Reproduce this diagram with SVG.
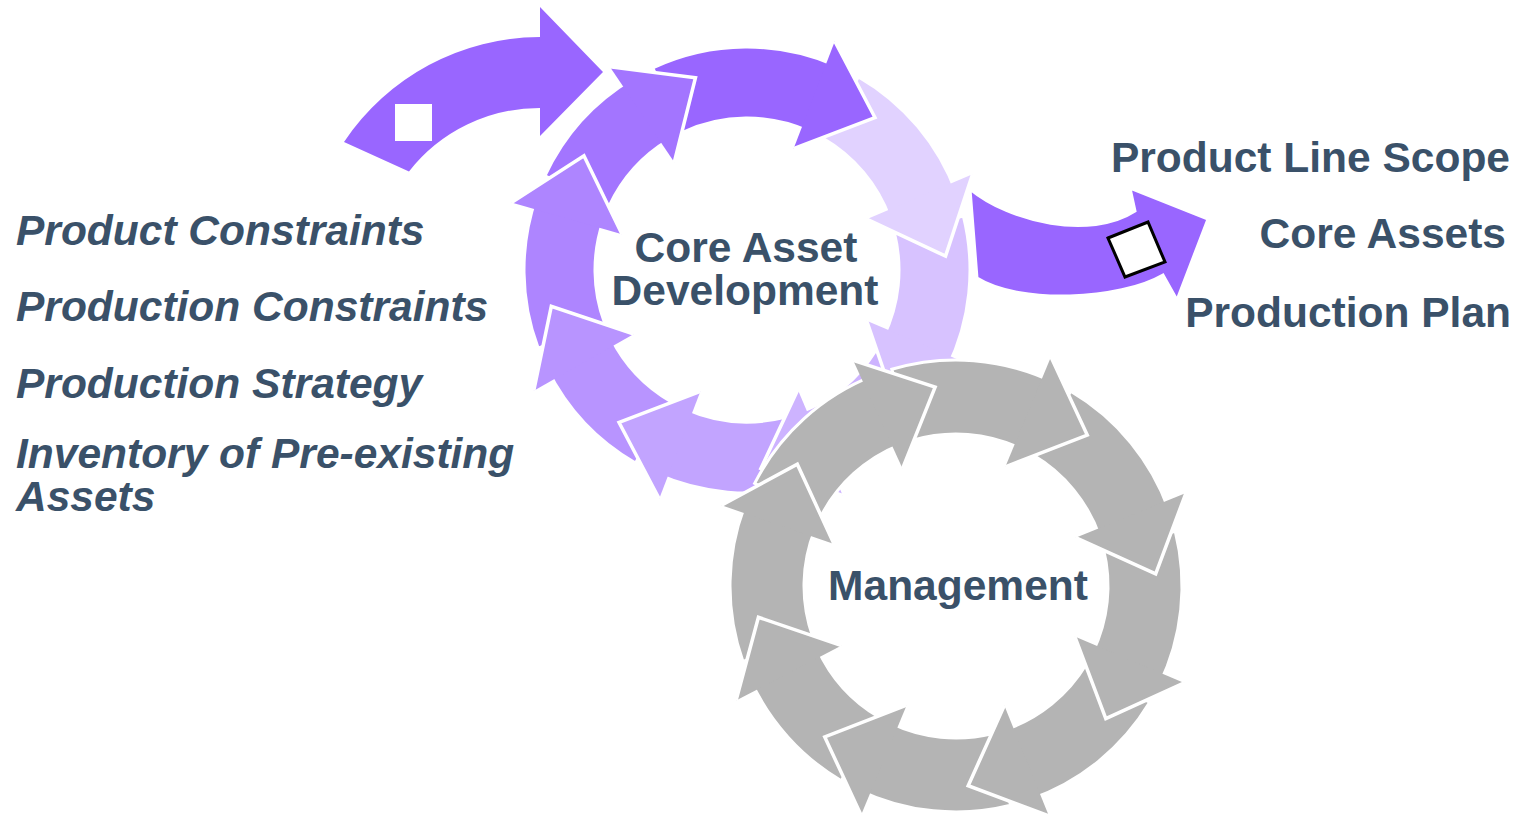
<svg xmlns="http://www.w3.org/2000/svg" xmlns:xlink="http://www.w3.org/1999/xlink" width="1524" height="817" viewBox="0 0 1524 817">
<style>
.t{font-family:"Liberation Sans",Arial,sans-serif;font-weight:bold;fill:#3A5169;font-size:42.5px}
.i{font-style:italic}
.b{stroke:#fff;stroke-width:3;stroke-linejoin:miter}
.w{fill:none;stroke:#fff;stroke-width:3.5;stroke-linejoin:miter}
.g{fill:#B4B4B4}
</style>
<defs>
<path id="ph" d="M0,-245 L64.8,-188.2 L0,-130 Z"/>
<path id="phs" d="M0,-245 L64.8,-188.2 L0,-130"/>
<path id="gh" d="M0,-248 L63.5,-189.7 L0,-129 Z"/>
<path id="ghs" d="M0,-248 L63.5,-189.7 L0,-129"/>
</defs>

<g id="input-arrow">
<path d="M344,142 A237,237 0 0 1 540,37 L540,7 L603,72 L540,136 L540,108 A166,166 0 0 0 409,171.5 Z" fill="#9966FF"/>
<rect x="395" y="104" width="37" height="37" fill="#fff"/>
</g>

<g id="core-asset-development">
<g id="cad-bodies">
<path class="b" fill="#9966FF" transform="translate(747,270) rotate(21)" d="M-160.41,-154.91 A223,223 0 0 1 11.67,-222.69 L7.96,-151.79 A152,152 0 0 0 -109.34,-105.59 Z"/>
<path class="b" fill="#E1D2FF" transform="translate(747,270) rotate(67)" d="M-134.21,-178.10 A223,223 0 0 1 11.67,-222.69 L7.96,-151.79 A152,152 0 0 0 -91.48,-121.39 Z"/>
<path class="b" fill="#D7C2FF" transform="translate(747,270) rotate(113)" d="M-134.21,-178.10 A223,223 0 0 1 11.67,-222.69 L7.96,-151.79 A152,152 0 0 0 -91.48,-121.39 Z"/>
<path class="b" fill="#CDB3FF" transform="translate(747,270) rotate(157)" d="M-127.91,-182.67 A223,223 0 0 1 11.67,-222.69 L7.96,-151.79 A152,152 0 0 0 -87.18,-124.51 Z"/>
<path class="b" fill="#C2A4FF" transform="translate(747,270) rotate(201)" d="M-127.91,-182.67 A223,223 0 0 1 11.67,-222.69 L7.96,-151.79 A152,152 0 0 0 -87.18,-124.51 Z"/>
<path class="b" fill="#B894FF" transform="translate(747,270) rotate(240.5)" d="M-113.18,-192.14 A223,223 0 0 1 11.67,-222.69 L7.96,-151.79 A152,152 0 0 0 -77.15,-130.97 Z"/>
<path class="b" fill="#AE85FF" transform="translate(747,270) rotate(286)" d="M-132.64,-179.26 A223,223 0 0 1 11.67,-222.69 L7.96,-151.79 A152,152 0 0 0 -90.41,-122.19 Z"/>
<path class="b" fill="#A375FF" transform="translate(747,270) rotate(326)" d="M-114.85,-191.15 A223,223 0 0 1 11.67,-222.69 L7.96,-151.79 A152,152 0 0 0 -78.29,-130.29 Z"/>
</g>
<g id="cad-heads">
<g transform="translate(747,270) rotate(21)"><use href="#ph" fill="#9966FF"/><use href="#phs" class="w"/></g>
<g transform="translate(747,270) rotate(67)"><use href="#ph" fill="#E1D2FF"/><use href="#phs" class="w"/></g>
<g transform="translate(747,270) rotate(113)"><use href="#ph" fill="#D7C2FF"/><use href="#phs" class="w"/></g>
<g transform="translate(747,270) rotate(157)"><use href="#ph" fill="#CDB3FF"/><use href="#phs" class="w"/></g>
<g transform="translate(747,270) rotate(201)"><use href="#ph" fill="#C2A4FF"/><use href="#phs" class="w"/></g>
<g transform="translate(747,270) rotate(240.5)"><use href="#ph" fill="#B894FF"/><use href="#phs" class="w"/></g>
<g transform="translate(747,270) rotate(286)"><use href="#ph" fill="#AE85FF"/><use href="#phs" class="w"/></g>
<g transform="translate(747,270) rotate(326)"><use href="#ph" fill="#A375FF"/><use href="#phs" class="w"/></g>
</g>
<text class="t" x="746" y="262" text-anchor="middle">Core Asset</text>
<text class="t" x="745" y="305" text-anchor="middle">Development</text>
</g>

<g id="management">
<g id="mgmt-bodies">
<path class="b g" transform="translate(956,586) rotate(22.5)" d="M-142.23,-175.64 A226,226 0 0 1 11.83,-225.69 L7.96,-151.79 A152,152 0 0 0 -95.66,-118.13 Z"/>
<path class="b g" transform="translate(956,586) rotate(68)" d="M-137.58,-179.30 A226,226 0 0 1 11.83,-225.69 L7.96,-151.79 A152,152 0 0 0 -92.53,-120.59 Z"/>
<path class="b g" transform="translate(956,586) rotate(113)" d="M-136.01,-180.49 A226,226 0 0 1 11.83,-225.69 L7.96,-151.79 A152,152 0 0 0 -91.48,-121.39 Z"/>
<path class="b g" transform="translate(956,586) rotate(158)" d="M-136.01,-180.49 A226,226 0 0 1 11.83,-225.69 L7.96,-151.79 A152,152 0 0 0 -91.48,-121.39 Z"/>
<path class="b g" transform="translate(956,586) rotate(202.5)" d="M-134.43,-181.67 A226,226 0 0 1 11.83,-225.69 L7.96,-151.79 A152,152 0 0 0 -90.41,-122.19 Z"/>
<path class="b g" transform="translate(956,586) rotate(242.5)" d="M-119.76,-191.66 A226,226 0 0 1 11.83,-225.69 L7.96,-151.79 A152,152 0 0 0 -80.55,-128.90 Z"/>
<path class="b g" transform="translate(956,586) rotate(289)" d="M-140.69,-176.87 A226,226 0 0 1 11.83,-225.69 L7.96,-151.79 A152,152 0 0 0 -94.62,-118.96 Z"/>
<path class="b g" transform="translate(956,586) rotate(335.5)" d="M-140.69,-176.87 A226,226 0 0 1 11.83,-225.69 L7.96,-151.79 A152,152 0 0 0 -94.62,-118.96 Z"/>
</g>
<g id="mgmt-heads">
<g transform="translate(956,586) rotate(22.5)"><use href="#gh" class="g"/><use href="#ghs" class="w"/></g>
<g transform="translate(956,586) rotate(68)"><use href="#gh" class="g"/><use href="#ghs" class="w"/></g>
<g transform="translate(956,586) rotate(113)"><use href="#gh" class="g"/><use href="#ghs" class="w"/></g>
<g transform="translate(956,586) rotate(158)"><use href="#gh" class="g"/><use href="#ghs" class="w"/></g>
<g transform="translate(956,586) rotate(202.5)"><use href="#gh" class="g"/><use href="#ghs" class="w"/></g>
<g transform="translate(956,586) rotate(242.5)"><use href="#gh" class="g"/><use href="#ghs" class="w"/></g>
<g transform="translate(956,586) rotate(289)"><use href="#gh" class="g"/><use href="#ghs" class="w"/></g>
<g transform="translate(956,586) rotate(335.5)"><use href="#gh" class="g"/><use href="#ghs" class="w"/></g>
</g>
<text class="t" x="958" y="600" text-anchor="middle">Management</text>
</g>

<g id="output-arrow">
<path class="b" fill="#9966FF" d="M970,189 C1010,222 1090,240 1135,211 L1130,188 L1208,219 L1177,300 L1163,275 C1120,300 1020,305 977,278 Z"/>
<polygon points="1108,238 1148,222 1165,262 1125,277" fill="#fff" stroke="#000" stroke-width="3"/>
</g>

<g id="inputs">
<text class="t i" x="16" y="245">Product Constraints</text>
<text class="t i" x="16" y="321">Production Constraints</text>
<text class="t i" x="16" y="398">Production Strategy</text>
<text class="t i" x="16" y="468">Inventory of Pre-existing</text>
<text class="t i" x="16" y="511">Assets</text>
</g>

<g id="outputs">
<text class="t" x="1510" y="172" text-anchor="end">Product Line Scope</text>
<text class="t" x="1506" y="248" text-anchor="end">Core Assets</text>
<text class="t" x="1511" y="327" text-anchor="end">Production Plan</text>
</g>
</svg>
